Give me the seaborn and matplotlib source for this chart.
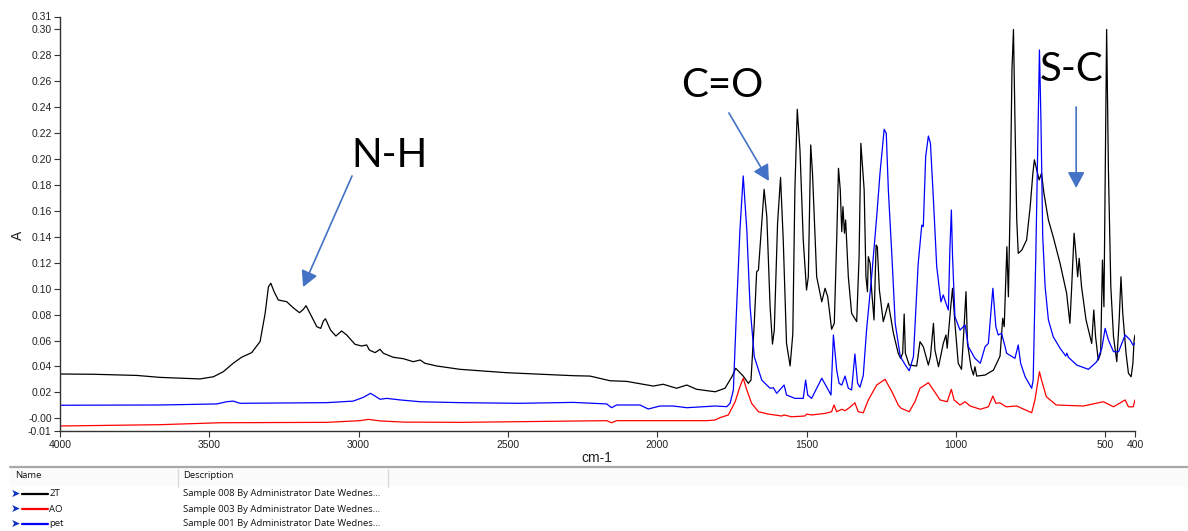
import matplotlib
matplotlib.use("Agg")
import matplotlib.pyplot as plt
from matplotlib.lines import Line2D
from matplotlib.patches import Rectangle
import pandas as pd
import seaborn as sns

# ---- spectra: wavenumber (cm-1) and absorbance ----
t2_wn = [4000, 3888, 3743, 3665, 3531, 3486, 3453, 3420, 3392, 3358, 3330, 3313, 3302, 3294,
         3283, 3269, 3241, 3219, 3198, 3185, 3176, 3163, 3140, 3127, 3118, 3111, 3105, 3094,
         3076, 3057, 3040, 3012, 2990, 2973, 2964, 2945, 2928, 2917, 2884, 2850, 2817, 2794,
         2778, 2739, 2660, 2504, 2281, 2225, 2158, 2102, 2013, 1980, 1935, 1901, 1868, 1806,
         1773, 1750, 1737, 1723, 1712, 1695, 1686, 1675, 1667, 1661, 1650, 1642, 1633, 1622,
         1614, 1608, 1597, 1587, 1578, 1567, 1555, 1546, 1539, 1531, 1522, 1511, 1500, 1494,
         1486, 1480, 1466, 1449, 1438, 1429, 1416, 1407, 1399, 1393, 1387, 1382, 1378, 1373,
         1369, 1360, 1349, 1332, 1324, 1318, 1307, 1301, 1296, 1293, 1287, 1282, 1274, 1267,
         1263, 1256, 1243, 1226, 1209, 1193, 1185, 1178, 1173, 1169, 1156, 1131, 1120, 1109,
         1092, 1085, 1075, 1070, 1058, 1042, 1033, 1029, 1017, 1011, 1003, 992, 981, 973,
         966, 961, 949, 941, 936, 930, 902, 874, 852, 843, 838, 829, 824, 818, 812, 807,
         802, 796, 791, 779, 763, 751, 742, 737, 729, 721, 713, 705, 690, 674, 651, 629,
         618, 612, 604, 599, 592, 587, 579, 564, 545, 538, 532, 523, 515, 509, 504, 497,
         495, 489, 481, 472, 461, 453, 447, 441, 430, 422, 413, 407, 403, 400]
t2_a = [0.0342, 0.0340, 0.0331, 0.0316, 0.0304, 0.0321, 0.0360, 0.0425, 0.0471, 0.0507, 0.0592,
        0.0810, 0.1015, 0.1042, 0.0977, 0.0913, 0.0900, 0.0853, 0.0815, 0.0841, 0.0869, 0.0810,
        0.0707, 0.0694, 0.0751, 0.0768, 0.0737, 0.0681, 0.0635, 0.0674, 0.0643, 0.0571, 0.0558,
        0.0566, 0.0527, 0.0507, 0.0532, 0.0502, 0.0471, 0.0460, 0.0437, 0.0450, 0.0425, 0.0404,
        0.0378, 0.0352, 0.0329, 0.0326, 0.0290, 0.0285, 0.0249, 0.0263, 0.0232, 0.0257, 0.0224,
        0.0205, 0.0232, 0.0321, 0.0386, 0.0352, 0.0326, 0.0270, 0.0295, 0.0733, 0.1131, 0.1145,
        0.1504, 0.1767, 0.1556, 0.0861, 0.0573, 0.0681, 0.1504, 0.1859, 0.1376, 0.0578, 0.0404,
        0.0650, 0.1762, 0.2384, 0.2071, 0.1376, 0.0990, 0.1092, 0.2109, 0.1890, 0.1092, 0.0899,
        0.1003, 0.0938, 0.0687, 0.0733, 0.1376, 0.1929, 0.1762, 0.1440, 0.1633, 0.1428, 0.1530,
        0.1092, 0.0810, 0.0746, 0.1247, 0.2122, 0.1762, 0.1092, 0.0977, 0.1247, 0.1196, 0.0990,
        0.0759, 0.1337, 0.1324, 0.0990, 0.0746, 0.0887, 0.0656, 0.0502, 0.0463, 0.0502, 0.0805,
        0.0502, 0.0411, 0.0404, 0.0591, 0.0553, 0.0411, 0.0476, 0.0733, 0.0527, 0.0398, 0.0578,
        0.0643, 0.0541, 0.0861, 0.1003, 0.0733, 0.0425, 0.0378, 0.0681, 0.0977, 0.0578, 0.0394,
        0.0334, 0.0398, 0.0326, 0.0334, 0.0372, 0.0480, 0.0771, 0.0707, 0.1324, 0.0938, 0.1659,
        0.2688, 0.3000, 0.2302, 0.1530, 0.1273, 0.1298, 0.1376, 0.1633, 0.1890, 0.1994, 0.1916,
        0.1839, 0.1890, 0.1736, 0.1530, 0.1401, 0.1196, 0.0965, 0.0733, 0.1015, 0.1428, 0.1298,
        0.1092, 0.1235, 0.1015, 0.0759, 0.0578, 0.0836, 0.0630, 0.0450, 0.0502, 0.1221, 0.0861,
        0.2559, 0.3000, 0.1916, 0.1015, 0.0630, 0.0437, 0.0759, 0.1092, 0.0810, 0.0502, 0.0348,
        0.0321, 0.0425, 0.0604, 0.0643]

ao_wn = [4000, 3665, 3464, 3107, 2995, 2967, 2928, 2850, 2660, 2169, 2153, 2136, 1834, 1806,
         1790, 1762, 1739, 1723, 1712, 1700, 1684, 1661, 1628, 1583, 1575, 1550, 1505, 1500,
         1483, 1438, 1416, 1408, 1399, 1382, 1371, 1355, 1338, 1327, 1310, 1293, 1265, 1237,
         1214, 1193, 1183, 1156, 1137, 1120, 1092, 1075, 1053, 1029, 1015, 1006, 986, 969,
         952, 918, 891, 876, 866, 853, 831, 796, 746, 735, 720, 713, 697, 664, 573, 506,
         472, 433, 422, 406, 400]
ao_a = [-0.0059, -0.0049, -0.0034, -0.0031, -0.0018, -0.0008, -0.0020, -0.0029, -0.0031,
        -0.0018, -0.0034, -0.0018, -0.0018, -0.0013, 0.0005, 0.0026, 0.0128, 0.0244, 0.0309,
        0.0219, 0.0116, 0.0051, 0.0033, 0.0018, 0.0026, 0.0012, 0.0018, 0.0033, 0.0026, 0.0038,
        0.0051, 0.0103, 0.0051, 0.0070, 0.0059, 0.0085, 0.0120, 0.0051, 0.0043, 0.0142, 0.0257,
        0.0301, 0.0205, 0.0103, 0.0077, 0.0051, 0.0128, 0.0232, 0.0275, 0.0219, 0.0142, 0.0128,
        0.0224, 0.0142, 0.0103, 0.0128, 0.0095, 0.0070, 0.0089, 0.0172, 0.0116, 0.0120, 0.0089,
        0.0095, 0.0043, 0.0142, 0.0360, 0.0295, 0.0167, 0.0103, 0.0095, 0.0128, 0.0089, 0.0142,
        0.0089, 0.0089, 0.0142]

pet_wn = [4000, 3665, 3475, 3442, 3420, 3397, 3107, 3018, 2984, 2960, 2945, 2928, 2906, 2861,
          2794, 2660, 2460, 2281, 2169, 2153, 2136, 2058, 2030, 1991, 1946, 1901, 1806, 1767,
          1756, 1745, 1734, 1723, 1712, 1700, 1689, 1675, 1650, 1622, 1611, 1600, 1575, 1567,
          1539, 1511, 1503, 1496, 1483, 1466, 1449, 1433, 1418, 1410, 1399, 1391, 1382, 1371,
          1360, 1349, 1338, 1329, 1321, 1310, 1299, 1282, 1265, 1254, 1240, 1233, 1226, 1214,
          1203, 1186, 1169, 1156, 1142, 1126, 1114, 1109, 1101, 1092, 1085, 1075, 1064, 1050,
          1042, 1033, 1025, 1020, 1015, 1011, 1003, 986, 969, 958, 936, 918, 902, 891, 876,
          866, 858, 847, 835, 830, 802, 791, 783, 768, 746, 741, 732, 726, 720, 715, 709, 701,
          690, 674, 651, 632, 628, 623, 595, 556, 528, 511, 500, 489, 472, 455, 433, 416, 407,
          400]
pet_a = [0.0101, 0.0103, 0.0111, 0.0128, 0.0133, 0.0116, 0.0121, 0.0133, 0.0162, 0.0193, 0.0172,
         0.0147, 0.0154, 0.0142, 0.0128, 0.0121, 0.0116, 0.0123, 0.0111, 0.0082, 0.0103, 0.0103,
         0.0072, 0.0095, 0.0095, 0.0082, 0.0095, 0.0090, 0.0116, 0.0219, 0.0861, 0.1453, 0.1870,
         0.1453, 0.0861, 0.0476, 0.0295, 0.0232, 0.0236, 0.0193, 0.0257, 0.0180, 0.0154, 0.0154,
         0.0295, 0.0180, 0.0154, 0.0232, 0.0309, 0.0244, 0.0180, 0.0643, 0.0372, 0.0270, 0.0257,
         0.0326, 0.0232, 0.0219, 0.0496, 0.0270, 0.0240, 0.0330, 0.0681, 0.1092, 0.1556, 0.1890,
         0.2230, 0.2199, 0.1762, 0.1247, 0.0733, 0.0476, 0.0411, 0.0367, 0.0476, 0.1196, 0.1491,
         0.1479, 0.2018, 0.2178, 0.2122, 0.1685, 0.1170, 0.0899, 0.0952, 0.0887, 0.0836, 0.1298,
         0.1607, 0.1247, 0.0784, 0.0681, 0.0720, 0.0553, 0.0463, 0.0425, 0.0553, 0.0578, 0.1003,
         0.0707, 0.0643, 0.0656, 0.0553, 0.0502, 0.0463, 0.0566, 0.0425, 0.0321, 0.0232, 0.0295,
         0.1273, 0.2045, 0.2842, 0.2302, 0.1401, 0.1015, 0.0759, 0.0630, 0.0541, 0.0481, 0.0502,
         0.0471, 0.0411, 0.0378, 0.0437, 0.0541, 0.0694, 0.0604, 0.0514, 0.0514, 0.0643, 0.0604,
         0.0566, 0.0578]

sample_names = ["2T", "AO", "pet"]
sample_colors = {"2T": "#000000", "AO": "#ff0000", "pet": "#0000ff"}
sample_desc = {
    "2T": "Sample 008 By Administrator Date Wednes...",
    "AO": "Sample 003 By Administrator Date Wednes...",
    "pet": "Sample 001 By Administrator Date Wednes...",
}

x_ticks = [4000, 3500, 3000, 2500, 2000, 1500, 1000, 500, 400]
y_ticks = [-0.01, 0.0, 0.02, 0.04, 0.06, 0.08, 0.10, 0.12, 0.14, 0.16, 0.18, 0.20,
           0.22, 0.24, 0.26, 0.28, 0.30, 0.31]
y_tick_labels = ["-0.01", "-0.00", "0.02", "0.04", "0.06", "0.08", "0.10", "0.12", "0.14",
                 "0.16", "0.18", "0.20", "0.22", "0.24", "0.26", "0.28", "0.30", "0.31"]

df = pd.concat([
    pd.DataFrame({"wavenumber": t2_wn, "absorbance": t2_a, "sample": "2T"}),
    pd.DataFrame({"wavenumber": ao_wn, "absorbance": ao_a, "sample": "AO"}),
    pd.DataFrame({"wavenumber": pet_wn, "absorbance": pet_a, "sample": "pet"}),
], ignore_index=True)

sns.set_theme(style="ticks")
plt.rcParams["font.family"] = ["Liberation Sans", "DejaVu Sans"]

W, H = 1188, 531
fig = plt.figure(figsize=(W / 100, H / 100), dpi=100)
fig.patch.set_facecolor("white")


def fx(px):
    return px / W


def fy(py):
    return 1 - py / H


ax = fig.add_axes([fx(60), fy(431.3), fx(1135) - fx(60), fy(16.5) - fy(431.3)])
ax.set_facecolor("white")

sns.lineplot(data=df, x="wavenumber", y="absorbance", hue="sample",
             hue_order=sample_names, palette=sample_colors, estimator=None,
             sort=False, legend=False, linewidth=0.9, ax=ax)

ax.set_xlim(4000, 400)
ax.set_ylim(-0.01, 0.31)
ax.set_xticks(x_ticks)
ax.set_xticklabels([str(t) for t in x_ticks])
ax.set_yticks(y_ticks)
ax.set_yticklabels(y_tick_labels)
ax.set_xlabel("")
ax.set_ylabel("")
ax.tick_params(axis="both", direction="out", length=4, width=0.8, colors="#333333",
               labelsize=7.5, pad=2, labelcolor="#222222")
for side in ("top", "right"):
    ax.spines[side].set_visible(False)
for side in ("left", "bottom"):
    ax.spines[side].set_color("#333333")
    ax.spines[side].set_linewidth(1.0)

fig.text(fx(597), fy(458), "cm-1", fontsize=10, ha="center", va="center", color="#222222")
fig.text(fx(18), fy(235), "A", fontsize=10, rotation=90, ha="center", va="center",
         color="#222222")

# band labels with arrows
arrow_kw = dict(arrowstyle="-|>,head_length=0.6,head_width=0.32", color="#4472C4",
                lw=1.2, mutation_scale=16, shrinkA=0, shrinkB=0)
band_font = dict(fontsize=29, family=["Lato", "DejaVu Sans"], color="black",
                 ha="center", va="center")
ax.text(2895, 0.203, "N-H", **band_font)
ax.annotate("", xy=(3186, 0.1013), xytext=(3022, 0.187), arrowprops=arrow_kw)
ax.text(1783, 0.257, "C=O", **band_font)
ax.annotate("", xy=(1626, 0.1831), xytext=(1760, 0.2356), arrowprops=arrow_kw)
ax.text(611, 0.2688, "S-C", **band_font)
ax.annotate("", xy=(597, 0.1777), xytext=(597, 0.2402), arrowprops=arrow_kw)

# sample list beneath the plot
fig.add_artist(Rectangle((fx(10), fy(487)), fx(W) - fx(10), fy(468) - fy(487),
                         transform=fig.transFigure, facecolor="#fbfbfb", edgecolor="none"))
fig.add_artist(Line2D([fx(10), fx(W)], [fy(467), fy(467)], transform=fig.transFigure,
                      color="#a8a8a8", lw=1.6))
for sx in (178, 388):
    fig.add_artist(Line2D([fx(sx), fx(sx)], [fy(469), fy(487)], transform=fig.transFigure,
                          color="#dcdcdc", lw=1.0))
table_font = dict(fontsize=6.8, family=["Open Sans", "DejaVu Sans"], color="#111111",
                  va="center", ha="left")
fig.text(fx(15), fy(476), "Name", **table_font)
fig.text(fx(183), fy(476), "Description", **table_font)
row_y = [494, 509, 524]
for name, ry in zip(sample_names, row_y):
    fig.text(fx(11), fy(ry), "➤", fontsize=8, family=["DejaVu Sans"], color="#1030c0",
             va="center", ha="left")
    fig.add_artist(Line2D([fx(22), fx(48)], [fy(ry), fy(ry)], transform=fig.transFigure,
                          color=sample_colors[name], lw=1.6))
    fig.text(fx(49), fy(ry), name, **table_font)
    fig.text(fx(183), fy(ry), sample_desc[name], **table_font)

fig.savefig("out.png", dpi=100, facecolor="white")
